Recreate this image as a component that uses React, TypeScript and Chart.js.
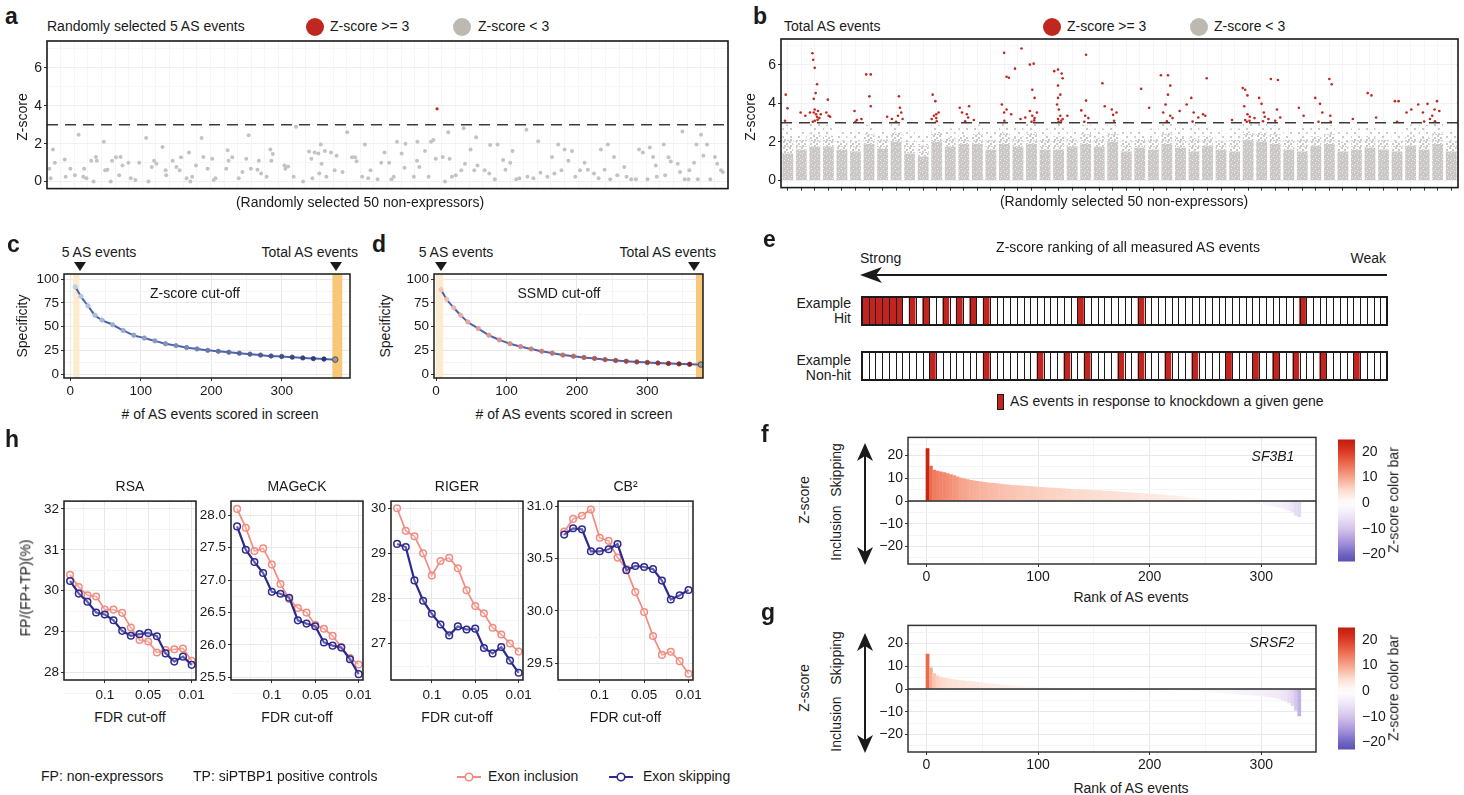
import React, { useEffect, useRef } from "react";
import { Chart, registerables } from "chart.js";
Chart.register(...registerables);

const FONT = '"Liberation Sans", Arial, Helvetica, sans-serif';
Chart.defaults.font.family = FONT;
Chart.defaults.color = "#1a1a1a";

// ================= DATA =================
// Panel a: 5 random AS events x 50 non-expressors  [jittered column position, Z-score]
const A_POINTS: [number, number][] = [
  [0.17,0.68],[0.27,0.17],[0.44,1.7],[0.58,1.0],[1.30,1.16],[1.37,0.26],[1.71,0.68],[2.05,0.34],[2.32,2.47],[2.67,0.26],
  [2.73,0.68],[2.90,0.17],[3.25,1.1],[3.42,0],[3.59,1.3],[3.66,1.1],[4.17,2.1],[4.27,0.6],[4.44,0.63],[4.68,0],
  [4.78,1.1],[5.06,1.28],[5.30,0.34],[5.40,1.3],[5.54,0.85],[5.98,1.0],[6.15,0.17],[6.49,0.08],[6.77,1.0],[7.28,2.3],
  [7.45,0],[7.69,0.77],[7.86,1.1],[8.03,0.94],[8.48,1.83],[8.71,0.6],[8.75,0.34],[9.23,1.1],[9.50,0.77],[9.74,0.6],
  [9.84,1.28],[10.25,0.17],[10.42,1.54],[10.53,0],[10.66,0.26],[10.94,0.85],[11.35,2.3],[11.48,1.3],[11.79,0.68],[12.13,1.2],
  [12.24,0.08],[12.37,0.17],[13.16,0.68],[13.26,1.65],[13.33,1.1],[13.60,1.28],[14.08,0.17],[14.35,0.51],[14.63,1.2],[14.80,2.44],
  [14.97,0.68],[15.45,0.63],[15.55,1.1],[15.72,0.43],[16.13,0.26],[16.40,1.7],[16.47,1.1],[16.58,1.45],[17.43,0.85],[17.50,0.68],
  [17.70,0.8],[18.11,0.26],[18.28,2.9],[18.80,0],[19.24,1.59],[19.41,1.2],[19.48,0.17],[19.65,1.54],[19.92,1.48],[19.99,0.43],
  [20.10,1.96],[20.16,0.94],[20.40,1.62],[20.51,0.26],[20.85,1.54],[21.12,0.6],[21.26,1.37],[21.70,0.51],[22.04,2.6],[22.39,1.28],
  [22.62,1.28],[22.73,1.08],[23.14,0.26],[23.34,1.96],[23.58,0.17],[23.75,0.6],[24.27,0.12],[24.54,1.0],[24.78,1.54],[25.12,1.0],
  [25.29,0.12],[25.46,0.26],[25.70,2.1],[26.04,1.48],[26.25,0.73],[26.32,2.0],[26.93,0.26],[27.17,1.1],[27.20,2.1],[27.34,0.77],
  [27.75,1.62],[28.02,0.26],[28.20,2.1],[28.37,2.2],[28.54,1.2],[28.64,3.84],[29.05,1.3],[29.22,0],[29.46,2.6],[29.56,1.2],
  [29.73,0.26],[30.01,0.34],[30.42,0.6],[30.59,2.82],[30.69,0.94],[31.10,1.7],[31.37,0.6],[31.51,2.34],[31.61,0.85],[32.13,0.6],
  [32.47,0.43],[32.54,1.93],[32.88,0.12],[33.08,1.96],[33.49,1.14],[33.66,0.63],[34.01,1.0],[34.18,1.62],[34.45,0.12],[34.69,0.17],
  [35.20,2.73],[35.27,0.26],[35.71,0.17],[36.06,2.13],[36.23,0.46],[36.74,0.26],[37.08,1.3],[37.25,0.43],[37.53,1.96],[37.77,0.6],
  [38.00,1.7],[38.28,1.1],[38.55,1.62],[38.79,0.26],[39.13,0.6],[39.47,1.0],[39.71,0.63],[40.16,0.43],[40.50,0.17],[40.67,1.7],
  [40.94,0.63],[41.18,1.96],[41.35,0.12],[41.63,1.3],[41.87,0.34],[42.38,0.77],[42.55,0.26],[42.89,0.12],[43.23,0.12],[43.47,1.7],
  [43.75,1.54],[44.09,0.12],[44.26,1.8],[44.50,1.3],[44.70,0.85],[44.77,0.26],[45.28,1.96],[45.39,0.34],[45.63,1.28],[45.80,1.06],
  [46.31,0.94],[46.48,0.51],[46.65,2.65],[46.82,0.12],[47.10,0.12],[47.16,0.6],[47.51,1.0],[47.68,1.96],[47.78,0.12],[48.02,2.47],
  [48.19,1.37],[48.46,1.96],[48.70,0.12],[49.04,1.3],[49.21,0.94],[49.49,0.6],[49.62,0.51],
];
const Z_THRESHOLD = 3;
const N_NONEXPR = 50;
const AB_Y_TICKS = [0, 2, 4, 6];

// Panel b: grey mass per non-expressor (dense band top, sparse band top) + red hits
const B_DENSE_TOP = [1.4,1.6,1.75,1.75,1.6,1.5,1.9,1.65,2.0,1.4,1.25,2.0,1.75,1.9,1.9,1.6,1.9,1.75,1.9,1.6,1.6,1.75,1.9,1.75,2.0,1.5,1.7,1.6,1.9,1.7,1.5,1.8,1.6,1.5,2.1,2.0,1.9,1.6,1.5,1.8,1.9,1.5,1.6,1.7,1.6,1.5,1.8,1.6,1.9,1.5];
const B_SPARSE_TOP = [2.9,2.6,3.0,2.9,2.5,2.6,2.9,2.6,3.0,2.5,2.4,2.9,2.7,2.8,2.9,2.6,3.0,2.8,3.0,2.7,3.0,2.6,2.9,2.7,2.9,2.6,2.6,2.7,3.0,2.8,2.9,2.8,2.5,2.7,3.0,3.0,2.9,2.6,2.8,2.8,2.9,2.5,2.7,2.8,2.6,2.6,2.9,2.9,3.0,2.6];
const B_RED: [number, number][] = [
  [0.35,4.46],[0.48,3.75],[1.45,3.53],[1.80,3.36],[2.14,3.53],[2.32,6.61],[2.38,6.27],[2.49,5.85],[2.66,5.0],[2.56,4.54],
  [2.42,4.24],[2.49,3.69],[2.59,3.44],[2.66,3.31],[2.42,3.53],[2.83,3.24],[2.73,3.61],[2.94,3.44],[3.35,3.53],[3.52,3.36],
  [3.46,4.2],[3.63,3.31],[5.43,3.61],[5.60,3.14],[6.29,5.51],[6.63,5.51],[6.53,4.37],[6.63,3.86],[5.94,3.19],[7.84,3.31],
  [8.19,3.19],[8.71,4.37],[8.78,3.78],[8.88,3.53],[8.64,3.36],[8.98,3.19],[11.2,4.46],[11.4,4.12],[11.47,3.44],[11.3,3.36],
  [11.64,3.53],[11.47,3.24],[11.13,3.19],[13.2,3.78],[13.37,3.53],[13.72,3.44],[13.89,3.86],[13.82,3.27],[14.24,3.14],[16.31,3.95],
  [16.48,3.53],[16.66,3.69],[16.48,6.63],[16.66,5.39],[16.83,5.34],[17.0,3.44],[17.28,5.81],[17.76,6.86],[18.38,6.02],[18.66,6.07],
  [18.56,4.71],[18.73,4.29],[18.38,3.61],[18.56,3.36],[18.73,3.24],[18.9,3.53],[17.69,3.19],[18.04,3.27],[20.18,5.68],[20.46,5.76],
  [20.73,5.56],[20.8,5.31],[20.46,4.93],[20.63,4.46],[20.46,4.29],[20.39,3.95],[20.52,3.69],[20.63,3.36],[20.46,3.19],[20.8,3.19],
  [21.15,3.36],[22.18,3.64],[22.53,6.53],[22.46,3.36],[22.7,3.24],[22.53,4.15],[23.74,5.05],[23.91,3.86],[24.43,3.69],[24.53,3.41],
  [24.78,3.53],[26.6,4.76],[27.19,3.78],[28.06,5.47],[28.58,5.47],[28.75,4.93],[28.58,4.46],[28.4,3.95],[28.23,3.53],[28.75,3.36],
  [28.92,3.24],[29.44,3.61],[29.96,3.95],[30.3,4.29],[30.48,3.53],[30.82,3.27],[31.17,3.44],[31.44,5.31],[31.34,3.36],[33.31,3.14],
  [34.1,4.8],[34.28,4.71],[34.45,4.42],[34.21,3.86],[34.45,3.44],[34.62,3.31],[34.28,3.14],[34.97,3.24],[35.31,4.29],[35.49,3.98],
  [35.66,3.53],[35.73,3.31],[36.0,3.19],[36.18,5.27],[36.7,5.22],[36.63,3.69],[36.87,3.27],[38.25,3.78],[38.6,3.36],[39.46,4.29],
  [39.81,3.98],[39.98,3.53],[40.5,5.27],[40.67,5.0],[40.57,3.36],[42.23,3.19],[43.33,4.54],[43.61,4.42],[45.34,4.12],[45.61,4.12],
  [46.2,3.53],[46.55,3.69],[47.06,3.95],[47.41,3.53],[47.75,3.98],[48.27,3.69],[48.45,4.12],[48.62,3.61],[48.1,3.36],[47.93,3.19],
  [43.95,3.27],[2.5,3.1],[2.7,3.15],[2.35,3.05],[8.5,3.05],[11.5,3.08],[16.5,3.1],[18.5,3.05],[18.7,3.12],[20.5,3.05],
  [20.7,3.1],[28.5,3.08],[34.4,3.05],[34.6,3.1],[35.6,3.08],[40.6,3.05],[47.5,3.06],[48.3,3.08],[0.3,3.1],[5.5,3.05],
  [13.6,3.07],[22.4,3.05],[24.6,3.1],[30.4,3.06],[36.5,3.1],[39.7,3.05],[45.5,3.05],
];

// Panels c, d: specificity vs # of AS events scored
const CD_EVENTS = [7,15,25,35,45,60,75,90,105,120,135,150,165,180,195,210,225,240,255,270,285,300,315,330,345,360,376];
const C_SPEC_ZSCORE = [92,82,72,62,57,52,46,41,38,35,32,30,28,26.5,25,24,23,22,21,20,19,18.5,17.8,17,16.3,15.8,15.2];
const D_SPEC_SSMD = [89,79,70,62,55,48,41,36,32,29,26.5,24,22,20,18.8,17.5,16.5,15.2,14.3,13.5,12.8,12.2,11.6,11.1,10.7,10.3,10];
const CD_X_TICKS = [0, 100, 200, 300];
const CD_Y_TICKS = [0, 25, 50, 75, 100];
const C_BAND_5 = [4, 13];
const C_BAND_TOTAL = [372, 386];
const D_BAND_5 = [0, 10];
const D_BAND_TOTAL = [369, 385];

// Panel e: ranked cells
const E_CELLS = 78;
const E_HIT_RED = [0,1,2,3,4,5,7,9,12,14,16,18,32,41,65];
const E_NONHIT_RED = [10,18,26,30,33,38,41,45,49,54,58,61,64,68,73];

// Panels f, g: ranked Z-scores
const FG_RANK = [1,4,7,10,13,16,19,22,25,28,31,34,37,40,43,46,49,52,55,58,61,64,67,70,73,76,79,82,85,88,91,94,97,100,103,106,109,112,115,118,121,124,127,130,133,136,139,142,145,148,151,154,157,160,163,166,169,172,175,178,181,184,187,190,193,196,199,202,205,208,211,214,217,220,223,226,229,232,235,238,241,244,247,250,253,256,259,262,265,268,271,274,277,280,283,286,289,292,295,298,301,304,307,310,313,316,319,322,325,328,331,334];
const F_SF3B1 = [23.2,15.5,13.8,13.3,13.0,12.7,12.2,11.8,11.3,10.8,10.3,9.9,9.6,9.3,9.0,8.8,8.6,8.4,8.2,8.0,7.9,7.7,7.6,7.4,7.3,7.1,7.0,6.9,6.8,6.7,6.6,6.5,6.4,6.3,6.2,6.1,6.0,5.9,5.8,5.7,5.6,5.5,5.4,5.3,5.2,5.2,5.1,5.0,5.0,4.9,4.8,4.7,4.6,4.5,4.5,4.4,4.3,4.2,4.1,4.0,3.9,3.8,3.7,3.6,3.5,3.4,3.3,3.2,3.1,3.0,2.9,2.8,2.6,2.5,2.4,2.2,2.0,1.9,1.7,1.6,1.4,1.2,1.0,0.8,0.6,0.4,0.2,0.1,-0.1,-0.2,-0.3,-0.4,-0.5,-0.6,-0.7,-0.8,-0.9,-1.0,-1.2,-1.4,-1.6,-1.8,-2.0,-2.3,-2.6,-2.9,-3.3,-3.8,-4.4,-5.2,-6.5,-7.0];
const G_SRSF2 = [15.5,9.5,7.0,6.0,5.4,5.0,4.7,4.4,4.2,4.0,3.9,3.8,3.6,3.5,3.3,3.1,3.0,2.8,2.6,2.5,2.3,2.2,2.0,1.9,1.8,1.7,1.6,1.5,1.4,1.3,1.2,1.1,1.0,0.9,0.85,0.8,0.75,0.7,0.65,0.6,0.55,0.5,0.45,0.4,0.38,0.35,0.32,0.3,0.27,0.25,0.22,0.2,0.18,0.15,0.12,0.1,0.08,0.05,0.03,0.01,-0.02,-0.05,-0.08,-0.1,-0.13,-0.16,-0.2,-0.23,-0.27,-0.3,-0.35,-0.4,-0.45,-0.5,-0.55,-0.6,-0.7,-0.8,-0.9,-1.0,-1.1,-1.2,-1.3,-1.4,-1.5,-1.6,-1.7,-1.8,-1.9,-2.0,-2.1,-2.2,-2.3,-2.4,-2.5,-2.6,-2.7,-2.8,-2.9,-3.0,-3.2,-3.4,-3.6,-3.8,-4.1,-4.5,-5.0,-5.5,-6.3,-7.5,-9.5,-12.0];
const FG_X_TICKS = [0, 100, 200, 300];
const FG_Y_TICKS = [-20, -10, 0, 10, 20];
const CB_RANGE = [-22.8, 24.8];

// Panel h: FP/(FP+TP) (%) along FDR cut-offs
const H_FDR_TICK_POS = [4, 9, 14];
const H_FDR_TICK_LABELS = ["0.1", "0.05", "0.01"];
const RSA_INC = [30.39,30.09,29.89,29.86,29.54,29.54,29.46,29.10,28.80,28.76,28.49,28.55,28.57,28.59,28.29];
const RSA_SKIP = [30.24,29.93,29.73,29.47,29.42,29.28,29.02,28.90,28.94,28.97,28.89,28.47,28.27,28.39,28.19];
const MAGECK_INC = [28.10,27.81,27.45,27.49,27.24,26.94,26.71,26.57,26.50,26.31,26.25,26.14,25.97,25.80,25.70];
const MAGECK_SKIP = [27.83,27.47,27.28,27.11,26.82,26.79,26.73,26.38,26.33,26.29,26.04,25.99,25.96,25.78,25.55];
const RIGER_INC = [30.00,29.50,29.38,29.00,28.51,28.83,28.90,28.67,28.18,27.83,27.67,27.35,27.20,27.00,26.82];
const RIGER_SKIP = [29.21,29.14,28.40,27.95,27.66,27.42,27.18,27.38,27.31,27.33,26.90,26.78,26.92,26.62,26.35];
const CB2_INC = [30.76,30.88,30.91,30.97,30.70,30.67,30.51,30.40,30.18,29.99,29.76,29.58,29.61,29.52,29.40];
const CB2_SKIP = [30.73,30.79,30.78,30.57,30.57,30.59,30.64,30.39,30.43,30.42,30.40,30.29,30.11,30.15,30.20];
const RSA_TICKS = [28, 29, 30, 31, 32];
const MAGECK_TICKS = [25.5, 26.0, 26.5, 27.0, 27.5, 28.0];
const RIGER_TICKS = [27, 28, 29, 30];
const CB2_TICKS = [29.5, 30.0, 30.5, 31.0];

// ================= STYLE HELPERS =================
const RED = "#c0281f";
const PINK = "#f28b80";
const NAVY = "#2d2a8e";

function hex(h: string) {
  const n = parseInt(h.slice(1), 16);
  return [(n >> 16) & 255, (n >> 8) & 255, n & 255];
}
function mix(a: string, b: string, t: number) {
  const A = hex(a), B = hex(b);
  const c = A.map((v, i) => Math.round(v + (B[i] - v) * t));
  return `rgb(${c[0]},${c[1]},${c[2]})`;
}
const POS_STOPS: [number, string][] = [[0, "#ffffff"], [5, "#fcdcd0"], [10, "#f6a48b"], [15, "#ee6e53"], [20, "#dc3a25"], [25, "#bf190b"]];
const NEG_STOPS: [number, string][] = [[0, "#ffffff"], [5, "#eee6f6"], [10, "#d4c4ec"], [15, "#a996dc"], [20, "#6f64c2"], [25, "#4347a6"]];
function zColor(v: number) {
  const s = v >= 0 ? POS_STOPS : NEG_STOPS;
  const a = Math.min(Math.abs(v), 25);
  for (let i = 1; i < s.length; i++) {
    if (a <= s[i][0]) return mix(s[i - 1][1], s[i][1], (a - s[i - 1][0]) / (s[i][0] - s[i - 1][0]));
  }
  return s[s.length - 1][1];
}
const minus = (v: number) => (v < 0 ? "\u2212" + Math.abs(v) : String(v));

// dotted textures imitating the dense / sparse jittered point clouds of panel b
function texture(tile: number, bg: string | null, dots: number[][], dotColor: string, dot: number) {
  const c = document.createElement("canvas");
  c.width = tile;
  c.height = tile;
  const g = c.getContext("2d")!;
  if (bg) {
    g.fillStyle = bg;
    g.fillRect(0, 0, tile, tile);
  }
  g.fillStyle = dotColor;
  for (const [x, y] of dots) g.fillRect(x, y, dot, dot);
  return g.createPattern(c, "repeat");
}

type M = { t: number; r: number; b: number; l: number };
type Box = { l: number; t: number; w: number; h: number };

function base(m: M, has: { x?: boolean; yl?: boolean; yr?: boolean }) {
  return {
    responsive: false,
    maintainAspectRatio: false,
    animation: false,
    devicePixelRatio: 1,
    events: [],
    layout: { padding: { top: m.t, right: has.yr ? 0 : m.r, bottom: has.x ? 0 : m.b, left: has.yl ? 0 : m.l } },
    plugins: { legend: { display: false }, tooltip: { enabled: false }, title: { display: false } },
  };
}

function axis(o: any) {
  const major: number[] = o.major;
  const minor: number[] = o.minor || [];
  const all = [...major, ...minor].sort((a, b) => a - b);
  const isMajor = (v: any) => major.some((m) => Math.abs(m - v) < 1e-9);
  return {
    type: "linear",
    position: o.pos,
    min: o.min,
    max: o.max,
    offset: false,
    afterFit: (s: any) => {
      if (o.pos === "bottom") s.height = o.size;
      else s.width = o.size;
    },
    afterBuildTicks: (s: any) => {
      s.ticks = all.map((v) => ({ value: v }));
    },
    ticks: {
      display: o.show !== false,
      autoSkip: false,
      maxRotation: 0,
      minRotation: 0,
      padding: o.pad ?? 2,
      color: "#1a1a1a",
      font: { size: o.font ?? 13, family: FONT },
      callback: (v: any) => (isMajor(v) ? (o.fmt ? o.fmt(v) : String(v)) : ""),
    },
    grid: {
      display: o.grid !== false,
      offset: false,
      drawTicks: o.drawTicks !== false,
      tickLength: o.tick ?? 3,
      lineWidth: 1,
      color: (c: any) => (isMajor(c.tick?.value) ? o.gMajor ?? "#e8e8e8" : o.gMinor ?? "#f4f4f4"),
      tickColor: (c: any) => (isMajor(c.tick?.value) ? "#333" : "rgba(0,0,0,0)"),
    },
    border: { display: false },
  };
}

const frame = (color = "#1a1a1a", width = 1.5) => ({
  id: "frame",
  afterDraw(chart: any) {
    const { ctx, chartArea: a } = chart;
    ctx.save();
    ctx.strokeStyle = color;
    ctx.lineWidth = width;
    ctx.strokeRect(a.left, a.top, a.right - a.left, a.bottom - a.top);
    ctx.restore();
  },
});

const hline = (value: number, color: string, width: number, dash: number[]) => ({
  id: "hline",
  afterDatasetsDraw(chart: any) {
    const { ctx, chartArea: a } = chart;
    const y = chart.scales.y.getPixelForValue(value);
    ctx.save();
    ctx.strokeStyle = color;
    ctx.lineWidth = width;
    ctx.setLineDash(dash);
    ctx.beginPath();
    ctx.moveTo(a.left, y);
    ctx.lineTo(a.right, y);
    ctx.stroke();
    ctx.restore();
  },
});

const bands = (list: { r: number[]; color: string }[]) => ({
  id: "bands",
  beforeDatasetsDraw(chart: any) {
    const { ctx, chartArea: a } = chart;
    const xs = chart.scales.x;
    ctx.save();
    ctx.beginPath();
    ctx.rect(a.left, a.top, a.right - a.left, a.bottom - a.top);
    ctx.clip();
    for (const b of list) {
      const x1 = xs.getPixelForValue(b.r[0]);
      const x2 = xs.getPixelForValue(b.r[1]);
      ctx.fillStyle = b.color;
      ctx.fillRect(x1, a.top, x2 - x1, a.bottom - a.top);
    }
    ctx.restore();
  },
});

const cellLines = (n: number) => ({
  id: "cellLines",
  afterDatasetsDraw(chart: any) {
    const { ctx, chartArea: a } = chart;
    ctx.save();
    ctx.strokeStyle = "#1a1a1a";
    ctx.lineWidth = 1;
    for (let i = 1; i < n; i++) {
      const x = Math.round(a.left + ((a.right - a.left) * i) / n) + 0.5;
      ctx.beginPath();
      ctx.moveTo(x, a.top);
      ctx.lineTo(x, a.bottom);
      ctx.stroke();
    }
    ctx.restore();
  },
});

function ChartCanvas({ box, m, make }: { box: Box; m: M; make: () => any }) {
  const ref = useRef<HTMLCanvasElement | null>(null);
  useEffect(() => {
    if (!ref.current) return;
    const chart = new Chart(ref.current, make());
    return () => chart.destroy();
  }, []);
  const W = box.w + m.l + m.r;
  const H = box.h + m.t + m.b;
  return (
    <canvas
      ref={ref}
      width={W}
      height={H}
      style={{ position: "absolute", left: box.l - m.l, top: box.t - m.t, width: W, height: H }}
    />
  );
}

// ================= CHART CONFIGS =================
const MA: M = { t: 12, r: 12, b: 6, l: 28 };
const MB: M = { t: 12, r: 4, b: 6, l: 28 };

function makeA() {
  const grey = A_POINTS.filter((p) => p[1] < Z_THRESHOLD).map(([x, y]) => ({ x, y }));
  const red = A_POINTS.filter((p) => p[1] >= Z_THRESHOLD).map(([x, y]) => ({ x, y }));
  const cols = Array.from({ length: N_NONEXPR + 1 }, (_, i) => i);
  return {
    type: "scatter",
    data: {
      datasets: [
        { data: red, pointRadius: 1.6, pointBackgroundColor: RED, pointBorderWidth: 0, order: 0 },
        { data: grey, pointRadius: 2, pointBackgroundColor: "#c6c2c2", pointBorderWidth: 0, order: 1 },
      ],
    },
    options: {
      ...base(MA, { x: true, yl: true }),
      scales: {
        x: axis({ pos: "bottom", size: MA.b, min: 0, max: N_NONEXPR, major: [], minor: cols, show: false, drawTicks: false, gMinor: "#f5f5f5" }),
        y: axis({ pos: "left", size: MA.l, min: -0.37, max: 7.42, major: AB_Y_TICKS, minor: [1, 3, 5, 7], font: 14, gMajor: "#f0f0f0", gMinor: "#f7f7f7" }),
      },
    },
    plugins: [hline(Z_THRESHOLD, "#3d3d3d", 1.6, [11, 7]), frame("#1a1a1a", 1.6)],
  };
}

function makeB() {
  const centers = B_DENSE_TOP.map((_, i) => i + 0.5);
  const mid = B_DENSE_TOP.map((d, i) => (d + B_SPARSE_TOP[i]) / 2);
  const dense = texture(6, "#cbc7c7", [[1, 1], [4, 3], [2, 5], [5, 0]], "#eceaea", 1);
  const medium = texture(6, null, [[0, 0], [3, 2], [1, 4], [4, 5]], "#cbc7c7", 2);
  const sparse = texture(8, null, [[1, 1], [5, 5]], "#cdc9c9", 2);
  return {
    type: "bar",
    data: {
      datasets: [
        { type: "scatter", data: B_RED.map(([x, y]) => ({ x, y })), pointRadius: 1.3, pointBackgroundColor: RED, pointBorderWidth: 0, order: 0 },
        { type: "bar", data: centers.map((x, i) => ({ x, y: [mid[i], B_SPARSE_TOP[i]] })), backgroundColor: sparse, barPercentage: 0.8, categoryPercentage: 1, grouped: false, borderWidth: 0, order: 1 },
        { type: "bar", data: centers.map((x, i) => ({ x, y: [B_DENSE_TOP[i], mid[i]] })), backgroundColor: medium, barPercentage: 0.8, categoryPercentage: 1, grouped: false, borderWidth: 0, order: 2 },
        { type: "bar", data: centers.map((x, i) => ({ x, y: [0, B_DENSE_TOP[i]] })), backgroundColor: dense, barPercentage: 0.8, categoryPercentage: 1, grouped: false, borderWidth: 0, order: 3 },
      ],
    },
    options: {
      ...base(MB, { x: true, yl: true }),
      scales: {
        x: axis({ pos: "bottom", size: MB.b, min: 0, max: N_NONEXPR, major: centers, show: false, tick: 3, gMajor: "#f5f5f5" }),
        y: axis({ pos: "left", size: MB.l, min: -0.37, max: 7.35, major: AB_Y_TICKS, minor: [1, 3, 5, 7], font: 14, gMajor: "#f0f0f0", gMinor: "#f7f7f7" }),
      },
    },
    plugins: [hline(Z_THRESHOLD, "#3d3d3d", 1.6, [11, 7]), frame("#1a1a1a", 1.6)],
  };
}

const MCD: M = { t: 12, r: 14, b: 22, l: 32 };
function makeCD(spec: number[], lineColor: string, c0: string, c1: string, xMin: number, xMax: number, band5: number[], bandT: number[]) {
  const n = CD_EVENTS.length;
  const fill = CD_EVENTS.map((_, i) => (i === n - 1 ? "#9a9a9a" : mix(c0, c1, i / (n - 1))));
  const border = CD_EVENTS.map((_, i) => (i === n - 1 ? "#3a3a3a" : mix(c0, c1, i / (n - 1))));
  return {
    type: "line",
    data: {
      datasets: [
        {
          data: CD_EVENTS.map((x, i) => ({ x, y: spec[i] })),
          borderColor: lineColor,
          borderWidth: 2,
          cubicInterpolationMode: "monotone",
          pointRadius: CD_EVENTS.map((_, i) => (i === n - 1 ? 2.8 : 2.2)),
          pointBackgroundColor: fill,
          pointBorderColor: border,
          pointBorderWidth: 0.8,
        },
      ],
    },
    options: {
      ...base(MCD, { x: true, yl: true }),
      scales: {
        x: axis({ pos: "bottom", size: MCD.b, min: xMin, max: xMax, major: CD_X_TICKS, minor: [50, 150, 250, 350], font: 13.5, pad: 2 }),
        y: axis({ pos: "left", size: MCD.l, min: -4.2, max: 105.6, major: CD_Y_TICKS, minor: [12.5, 37.5, 62.5, 87.5], font: 13.5 }),
      },
    },
    plugins: [bands([{ r: band5, color: "#fdebd0" }, { r: bandT, color: "#f7c878" }]), frame("#1a1a1a", 1.5)],
  };
}

function makeE(red: number[]) {
  const idx = Array.from({ length: E_CELLS }, (_, i) => i);
  return {
    type: "bar",
    data: {
      labels: idx.map(String),
      datasets: [
        {
          data: idx.map(() => 1),
          backgroundColor: idx.map((i) => (red.includes(i) ? "#c42420" : "#ffffff")),
          barPercentage: 1,
          categoryPercentage: 1,
          borderWidth: 0,
        },
      ],
    },
    options: {
      ...base({ t: 2, r: 2, b: 2, l: 2 }, {}),
      scales: { x: { display: false, offset: true }, y: { display: false, min: 0, max: 1 } },
    },
    plugins: [cellLines(E_CELLS), frame("#1a1a1a", 2)],
  };
}

const MFG: M = { t: 10, r: 10, b: 24, l: 34 };
const zeroLine = hline(0, "#2a2a2a", 1.6, []);
function makeFG(values: number[]) {
  return {
    type: "bar",
    data: {
      datasets: [
        {
          data: FG_RANK.map((x, i) => ({ x, y: values[i] })),
          backgroundColor: values.map(zColor),
          barPercentage: 1.12,
          categoryPercentage: 1,
          borderWidth: 0,
          grouped: false,
        },
      ],
    },
    options: {
      ...base(MFG, { x: true, yl: true }),
      scales: {
        x: axis({ pos: "bottom", size: MFG.b, min: -16.5, max: 349, major: FG_X_TICKS, minor: [50, 150, 250], font: 14 }),
        y: axis({ pos: "left", size: MFG.l, min: -27.7, max: 28, major: FG_Y_TICKS, minor: [-25, -15, -5, 5, 15, 25], font: 14, fmt: minus }),
      },
    },
    plugins: [zeroLine, frame("#333", 1.5)],
  };
}

const MCB: M = { t: 10, r: 38, b: 10, l: 0 };
function makeCB() {
  return {
    type: "bar",
    data: {
      labels: ["z"],
      datasets: [
        {
          data: [[CB_RANGE[0], CB_RANGE[1]]],
          backgroundColor: (c: any) => {
            const ch = c.chart;
            if (!ch.chartArea) return "#fff";
            const ys = ch.scales.y;
            const y0 = ys.getPixelForValue(CB_RANGE[1]);
            const y1 = ys.getPixelForValue(CB_RANGE[0]);
            const g = ch.ctx.createLinearGradient(0, y0, 0, y1);
            for (let k = 0; k <= 24; k++) {
              const v = CB_RANGE[1] + ((CB_RANGE[0] - CB_RANGE[1]) * k) / 24;
              g.addColorStop(k / 24, zColor(v));
            }
            return g;
          },
          barPercentage: 1,
          categoryPercentage: 1,
          borderWidth: 0,
        },
      ],
    },
    options: {
      ...base(MCB, { yr: true }),
      scales: {
        x: { display: false, offset: true },
        y: axis({ pos: "right", size: MCB.r, min: CB_RANGE[0], max: CB_RANGE[1], major: FG_Y_TICKS, font: 14, fmt: minus, grid: false, pad: 4 }),
      },
    },
  };
}

const MH: M = { t: 10, r: 14, b: 24, l: 34 };
function makeH(inc: number[], skip: number[], yMin: number, yMax: number, yTicks: number[], dec: number) {
  const step = yTicks[1] - yTicks[0];
  const yMinor = yTicks.map((v) => v - step / 2).concat([yTicks[yTicks.length - 1] + step / 2]);
  const xs = inc.map((_, i) => i);
  const fdrLabel = (v: number) => H_FDR_TICK_LABELS[H_FDR_TICK_POS.indexOf(v)] ?? "";
  return {
    type: "line",
    data: {
      datasets: [
        {
          data: xs.map((x) => ({ x, y: skip[x] })),
          borderColor: NAVY,
          borderWidth: 2.2,
          pointRadius: 3.3,
          pointBorderWidth: 1.5,
          pointBorderColor: NAVY,
          pointBackgroundColor: "rgba(255,255,255,0.25)",
          order: 0,
        },
        {
          data: xs.map((x) => ({ x, y: inc[x] })),
          borderColor: PINK,
          borderWidth: 1.7,
          pointRadius: 3.3,
          pointBorderWidth: 1.5,
          pointBorderColor: PINK,
          pointBackgroundColor: "rgba(255,255,255,0.25)",
          order: 1,
        },
      ],
    },
    options: {
      ...base(MH, { x: true, yl: true }),
      scales: {
        x: axis({ pos: "bottom", size: MH.b, min: -0.7, max: 14.5, major: H_FDR_TICK_POS, minor: [1.5, 6.5, 11.5], font: 13.5, fmt: fdrLabel, pad: 4 }),
        y: axis({ pos: "left", size: MH.l, min: yMin, max: yMax, major: yTicks, minor: yMinor, font: 13.5, fmt: (v: number) => v.toFixed(dec) }),
      },
    },
    plugins: [frame("#1a1a1a", 1.5)],
  };
}

// ================= TEXT / SHAPES =================
function T({ x, y, children, size = 14, anchor = "start", rot = 0, bold = false, italic = false }: any) {
  const tx = anchor === "start" ? "0%" : anchor === "middle" ? "-50%" : "-100%";
  return (
    <div
      style={{
        position: "absolute",
        left: x,
        top: y,
        transform: `translate(${rot ? "-50%" : tx}, -50%)${rot ? ` rotate(${rot}deg)` : ""}`,
        fontSize: size,
        fontWeight: bold ? 700 : 400,
        fontStyle: italic ? "italic" : "normal",
        whiteSpace: "nowrap",
        lineHeight: 1.1,
        color: "#1a1a1a",
        textAlign: anchor === "end" ? "right" : anchor === "middle" ? "center" : "left",
      }}
    >
      {children}
    </div>
  );
}

function Dot({ x, y, r, color }: any) {
  return <div style={{ position: "absolute", left: x - r, top: y - r, width: 2 * r, height: 2 * r, borderRadius: "50%", background: color }} />;
}

function Tri({ x, y }: any) {
  return (
    <svg style={{ position: "absolute", left: x - 6, top: y - 5, overflow: "visible" }} width={12} height={10}>
      <polygon points="0,0 12,0 6,9" fill="#1a1a1a" />
    </svg>
  );
}

function DoubleArrow({ x, y1, y2 }: any) {
  const h = y2 - y1;
  return (
    <svg style={{ position: "absolute", left: x - 8, top: y1, overflow: "visible" }} width={16} height={h}>
      <line x1={8} y1={10} x2={8} y2={h - 10} stroke="#1a1a1a" strokeWidth={2} />
      <polygon points="0,18 8,0 16,18 8,13" fill="#1a1a1a" />
      <polygon points={`0,${h - 18} 8,${h} 16,${h - 18} 8,${h - 13}`} fill="#1a1a1a" />
    </svg>
  );
}

function LegendLine({ x, y, color }: any) {
  return (
    <svg style={{ position: "absolute", left: x, top: y - 6, overflow: "visible" }} width={24} height={12}>
      <line x1={0} y1={6} x2={24} y2={6} stroke={color} strokeWidth={2} />
      <circle cx={12} cy={6} r={3.8} fill="#fff" stroke={color} strokeWidth={1.6} />
    </svg>
  );
}

// ================= LAYOUT =================
const BOX_A: Box = { l: 47, t: 41, w: 681, h: 152 };
const BOX_B: Box = { l: 781, t: 39, w: 677, h: 153 };
const BOX_C: Box = { l: 64, t: 274, w: 286, h: 104 };
const BOX_D: Box = { l: 434, t: 274, w: 269, h: 104 };
const BOX_E1: Box = { l: 862, t: 297, w: 525, h: 28 };
const BOX_E2: Box = { l: 862, t: 352, w: 525, h: 28 };
const BOX_F: Box = { l: 908, t: 437, w: 408, h: 127 };
const BOX_G: Box = { l: 908, t: 625, w: 408, h: 127 };
const BOX_FCB: Box = { l: 1338, t: 437, w: 17, h: 127 };
const BOX_GCB: Box = { l: 1338, t: 625, w: 17, h: 127 };
const H_TOP = 501;
const H_H = 179;
const BOX_H = [
  { l: 64, t: H_TOP, w: 132, h: H_H },
  { l: 231, t: H_TOP, w: 132, h: H_H },
  { l: 391, t: H_TOP, w: 132, h: H_H },
  { l: 558, t: H_TOP, w: 135, h: H_H },
];
const H_TITLES = ["RSA", "MAGeCK", "RIGER", "CB\u00b2"];

export default function App() {
  useEffect(() => {
    document.body.style.margin = "0";
  }, []);
  return (
    <div style={{ position: "absolute", left: 0, top: 0, width: 1464, height: 795, background: "#fff", fontFamily: FONT, overflow: "hidden" }}>
      {/* ---- a ---- */}
      <T x={5} y={17} size={23} bold>a</T>
      <T x={47} y={27}>Randomly selected 5 AS events</T>
      <Dot x={315} y={27} r={9} color={RED} />
      <T x={330} y={27}>Z-score &gt;= 3</T>
      <Dot x={462} y={27} r={9} color="#bdb8b0" />
      <T x={478} y={27}>Z-score &lt; 3</T>
      <ChartCanvas box={BOX_A} m={MA} make={makeA} />
      <T x={23} y={117} rot={-90}>Z-score</T>
      <T x={360} y={203} anchor="middle">(Randomly selected 50 non-expressors)</T>

      {/* ---- b ---- */}
      <T x={753} y={17} size={23} bold>b</T>
      <T x={784} y={27}>Total AS events</T>
      <Dot x={1052} y={27} r={9} color={RED} />
      <T x={1067} y={27}>Z-score &gt;= 3</T>
      <Dot x={1199} y={27} r={9} color="#bdb8b0" />
      <T x={1214} y={27}>Z-score &lt; 3</T>
      <ChartCanvas box={BOX_B} m={MB} make={makeB} />
      <T x={751} y={117} rot={-90}>Z-score</T>
      <T x={1124} y={202} anchor="middle">(Randomly selected 50 non-expressors)</T>

      {/* ---- c ---- */}
      <T x={7} y={245} size={23} bold>c</T>
      <T x={99} y={253} anchor="middle">5 AS events</T>
      <Tri x={80} y={267} />
      <T x={358} y={253} anchor="end">Total AS events</T>
      <Tri x={336} y={267} />
      <ChartCanvas box={BOX_C} m={MCD} make={() => makeCD(C_SPEC_ZSCORE, "#4f63ad", "#b9d0ea", "#22306f", -9, 397, C_BAND_5, C_BAND_TOTAL)} />
      <T x={195} y={294} anchor="middle">Z-score cut-off</T>
      <T x={23} y={326} rot={-90}>Specificity</T>
      <T x={220} y={415} anchor="middle"># of AS events scored in screen</T>

      {/* ---- d ---- */}
      <T x={372} y={245} size={23} bold>d</T>
      <T x={456} y={253} anchor="middle">5 AS events</T>
      <Tri x={441} y={267} />
      <T x={716} y={253} anchor="end">Total AS events</T>
      <Tri x={694} y={267} />
      <ChartCanvas box={BOX_D} m={MCD} make={() => makeCD(D_SPEC_SSMD, "#4f63ad", "#f4c3b8", "#7a1d1d", -3, 379, D_BAND_5, D_BAND_TOTAL)} />
      <T x={559} y={294} anchor="middle">SSMD cut-off</T>
      <T x={386} y={326} rot={-90}>Specificity</T>
      <T x={574} y={415} anchor="middle"># of AS events scored in screen</T>

      {/* ---- e ---- */}
      <T x={763} y={240} size={23} bold>e</T>
      <T x={1128} y={248} anchor="middle">Z-score ranking of all measured AS events</T>
      <T x={860} y={259}>Strong</T>
      <T x={1386} y={259} anchor="end">Weak</T>
      <svg style={{ position: "absolute", left: 860, top: 267, overflow: "visible" }} width={530} height={16}>
        <line x1={14} y1={8} x2={527} y2={8} stroke="#1a1a1a" strokeWidth={2} />
        <polygon points="0,8 22,0 16,8 22,16" fill="#1a1a1a" />
      </svg>
      <ChartCanvas box={BOX_E1} m={{ t: 2, r: 2, b: 2, l: 2 }} make={() => makeE(E_HIT_RED)} />
      <ChartCanvas box={BOX_E2} m={{ t: 2, r: 2, b: 2, l: 2 }} make={() => makeE(E_NONHIT_RED)} />
      <T x={851} y={311} anchor="end">Example<br />Hit</T>
      <T x={851} y={368} anchor="end">Example<br />Non-hit</T>
      <div style={{ position: "absolute", left: 997, top: 394, width: 7, height: 16, background: "#c42420", border: "1px solid #1a1a1a", boxSizing: "border-box" }} />
      <T x={1010} y={402}>AS events in response to knockdown a given gene</T>

      {/* ---- f ---- */}
      <T x={761} y={435} size={23} bold>f</T>
      <ChartCanvas box={BOX_F} m={MFG} make={() => makeFG(F_SF3B1)} />
      <ChartCanvas box={BOX_FCB} m={MCB} make={makeCB} />
      <T x={1273} y={457} anchor="middle" italic>SF3B1</T>
      <T x={805} y={500} rot={-90}>Z-score</T>
      <T x={837} y={470} rot={-90}>Skipping</T>
      <T x={837} y={533} rot={-90}>Inclusion</T>
      <DoubleArrow x={865} y1={443} y2={565} />
      <T x={1394} y={500} rot={-90}>Z-score color bar</T>
      <T x={1131} y={598} anchor="middle">Rank of AS events</T>

      {/* ---- g ---- */}
      <T x={761} y={613} size={23} bold>g</T>
      <ChartCanvas box={BOX_G} m={MFG} make={() => makeFG(G_SRSF2)} />
      <ChartCanvas box={BOX_GCB} m={MCB} make={makeCB} />
      <T x={1272} y={643} anchor="middle" italic>SRSF2</T>
      <T x={805} y={688} rot={-90}>Z-score</T>
      <T x={837} y={658} rot={-90}>Skipping</T>
      <T x={837} y={724} rot={-90}>Inclusion</T>
      <DoubleArrow x={865} y1={633} y2={753} />
      <T x={1394} y={688} rot={-90}>Z-score color bar</T>
      <T x={1131} y={789} anchor="middle">Rank of AS events</T>

      {/* ---- h ---- */}
      <T x={5} y={440} size={23} bold>h</T>
      <ChartCanvas box={BOX_H[0]} m={MH} make={() => makeH(RSA_INC, RSA_SKIP, 27.82, 32.19, RSA_TICKS, 0)} />
      <ChartCanvas box={BOX_H[1]} m={MH} make={() => makeH(MAGECK_INC, MAGECK_SKIP, 25.46, 28.22, MAGECK_TICKS, 1)} />
      <ChartCanvas box={BOX_H[2]} m={MH} make={() => makeH(RIGER_INC, RIGER_SKIP, 26.19, 30.16, RIGER_TICKS, 0)} />
      <ChartCanvas box={BOX_H[3]} m={MH} make={() => makeH(CB2_INC, CB2_SKIP, 29.34, 31.05, CB2_TICKS, 1)} />
      {BOX_H.map((b, i) => (
        <React.Fragment key={i}>
          <T x={b.l + b.w / 2} y={487} anchor="middle">{H_TITLES[i]}</T>
          <T x={b.l + b.w / 2} y={718} anchor="middle">FDR cut-off</T>
        </React.Fragment>
      ))}
      <T x={26} y={588} rot={-90}>FP/(FP+TP)(%)</T>
      <T x={41} y={777}>FP: non-expressors</T>
      <T x={193} y={777}>TP: siPTBP1 positive controls</T>
      <LegendLine x={457} y={777} color={PINK} />
      <T x={488} y={777}>Exon inclusion</T>
      <LegendLine x={609} y={777} color={NAVY} />
      <T x={643} y={777}>Exon skipping</T>
    </div>
  );
}
